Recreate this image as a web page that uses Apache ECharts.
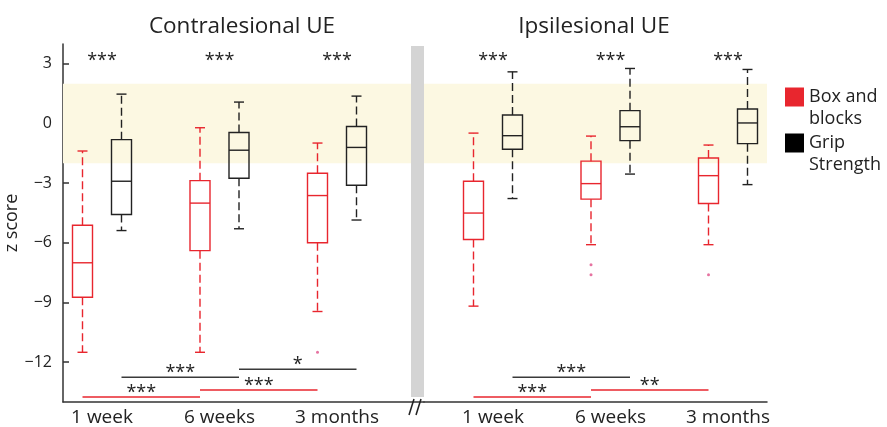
<!DOCTYPE html>
<html><head><meta charset="utf-8">
<script src="https://cdn.jsdelivr.net/npm/echarts@6/dist/echarts.min.js"></script>
<style>html,body{margin:0;padding:0;background:#fff}#c{width:887px;height:427px}</style>
</head><body><div id="c"></div>
<script>
// ---------- data ----------
const categories = ['1 week', '6 weeks', '3 months'];
const yTicks = [-12, -9, -6, -3, 0, 3];
const normalBand = [-2, 2];
// each box: [lower whisker, Q1, median, Q3, upper whisker]
const contraBoxBlocks = [[-11.5, -8.73, -7.0, -5.11, -1.38], [-11.5, -6.39, -4.0, -2.87, -0.21], [-9.45, -5.99, -3.62, -2.5, -0.98]];
const contraGrip      = [[-5.38, -4.57, -2.9, -0.81, 1.48], [-5.29, -2.75, -1.34, -0.45, 1.08], [-4.85, -3.1, -1.2, -0.15, 1.38]];
const ipsiBoxBlocks   = [[-9.18, -5.83, -4.5, -2.9, -0.48], [-6.09, -3.8, -3.02, -1.89, -0.63], [-6.09, -4.02, -2.62, -1.73, -1.08]];
const ipsiGrip        = [[-3.77, -1.29, -0.61, 0.43, 2.6], [-2.54, -0.86, -0.16, 0.65, 2.77], [-3.07, -1.01, 0.03, 0.73, 2.72]];
// outliers: [category index, value]
const contraBoxOutliers = [[2, -11.5]];
const ipsiBoxOutliers   = [[1, -7.1], [1, -7.6], [2, -7.6]];
// between-measure significance above each time point
const contraGroupStars = ['***', '***', '***'];
const ipsiGroupStars   = ['***', '***', '***'];
const starLevel = 3.35;
// comparisons across time: [from category, to category, level, measure (0 Box and blocks, 1 Grip Strength), label]
const contraComparisons = [[0, 1, -12.75, 1, '***'], [1, 2, -12.35, 1, '*'], [0, 1, -13.75, 0, '***'], [1, 2, -13.4, 0, '***']];
const ipsiComparisons   = [[0, 1, -12.75, 1, '***'], [0, 1, -13.75, 0, '***'], [1, 2, -13.4, 0, '**']];
const legendNames = ['Box and blocks', 'Grip Strength'];
const legendLabels = ['Box and\nblocks', 'Grip\nStrength'];

// ---------- styling ----------
const RED = '#e8262e', BLACK = '#222222', AXIS = '#333333', TXT = '#222222';
const FONT = '"Open Sans", "Noto Sans", sans-serif';
const HALF_GAP = 19.5, BOX_W = 20, CAP_W = 10;

function boxRenderer(side, color) {
  return function (params, api) {
    const x = api.value(0);
    const lo = api.coord([x, api.value(1)]);
    const q1 = api.coord([x, api.value(2)]);
    const md = api.coord([x, api.value(3)]);
    const q3 = api.coord([x, api.value(4)]);
    const hi = api.coord([x, api.value(5)]);
    const cx = lo[0] + side * HALF_GAP;
    const solid = { stroke: color, lineWidth: 1.4, fill: null };
    const dash = { stroke: color, lineWidth: 1.4, lineDash: [8, 4] };
    return {
      type: 'group',
      children: [
        { type: 'line', shape: { x1: cx, y1: q3[1], x2: cx, y2: hi[1] }, style: dash },
        { type: 'line', shape: { x1: cx, y1: q1[1], x2: cx, y2: lo[1] }, style: dash },
        { type: 'line', shape: { x1: cx - CAP_W / 2, y1: hi[1], x2: cx + CAP_W / 2, y2: hi[1] }, style: solid },
        { type: 'line', shape: { x1: cx - CAP_W / 2, y1: lo[1], x2: cx + CAP_W / 2, y2: lo[1] }, style: solid },
        { type: 'rect', shape: { x: cx - BOX_W / 2, y: q3[1], width: BOX_W, height: q1[1] - q3[1] }, style: { stroke: color, lineWidth: 1.4, fill: 'rgba(255,255,255,0)' } },
        { type: 'line', shape: { x1: cx - BOX_W / 2, y1: md[1], x2: cx + BOX_W / 2, y2: md[1] }, style: solid }
      ]
    };
  };
}

function starText(x, yCenter, label) {
  return { type: 'text', style: { text: label, x: x, y: yCenter + 4, align: 'center', verticalAlign: 'middle', fill: TXT, font: '18px ' + FONT } };
}

function groupStarRenderer(labels) {
  return function (params, api) {
    const p = api.coord([api.value(0), starLevel]);
    return starText(p[0], p[1], labels[params.dataIndex]);
  };
}

function comparisonRenderer(comps) {
  return function (params, api) {
    const c = comps[params.dataIndex];
    const off = c[3] === 0 ? -HALF_GAP : HALF_GAP;
    const p1 = api.coord([c[0], c[2]]);
    const p2 = api.coord([c[1], c[2]]);
    const color = c[3] === 0 ? RED : '#3a3a3a';
    return {
      type: 'group',
      children: [
        { type: 'line', shape: { x1: p1[0] + off, y1: p1[1], x2: p2[0] + off, y2: p2[1] }, style: { stroke: color, lineWidth: 1.5 } },
        starText((p1[0] + p2[0]) / 2 + off, p1[1] - 8, c[4])
      ]
    };
  };
}

function panelSeries(gi, boxBlocks, grip, outliers, groupStars, comps) {
  const withIdx = arr => arr.map((d, i) => [i].concat(d));
  return [
    {
      name: legendNames[0], type: 'custom', xAxisIndex: gi, yAxisIndex: gi, clip: false,
      itemStyle: { color: RED }, encode: { x: 0, y: [1, 2, 3, 4, 5] },
      renderItem: boxRenderer(-1, RED), data: withIdx(boxBlocks),
      markArea: {
        silent: true, itemStyle: { color: '#fcf8e2' },
        data: [[{ yAxis: normalBand[0] }, { yAxis: normalBand[1] }]]
      },
      z: 3
    },
    {
      name: legendNames[1], type: 'custom', xAxisIndex: gi, yAxisIndex: gi, clip: false,
      itemStyle: { color: '#000' }, encode: { x: 0, y: [1, 2, 3, 4, 5] },
      renderItem: boxRenderer(1, BLACK), data: withIdx(grip), z: 3
    },
    {
      name: 'outliers', type: 'scatter', xAxisIndex: gi, yAxisIndex: gi,
      symbol: 'circle', symbolSize: 3, symbolOffset: [-HALF_GAP, 0],
      itemStyle: { color: '#e0508a' }, data: outliers, silent: true, z: 3
    },
    {
      name: 'stars', type: 'custom', xAxisIndex: gi, yAxisIndex: gi, clip: false, silent: true,
      renderItem: groupStarRenderer(groupStars), data: groupStars.map((s, i) => [i]), encode: { x: 0 }, z: 4
    },
    {
      name: 'comparisons', type: 'custom', xAxisIndex: gi, yAxisIndex: gi, clip: false, silent: true,
      renderItem: comparisonRenderer(comps), data: comps.map(c => [c[0], c[1], c[2], c[3]]), encode: { x: [0, 1], y: 2 }, z: 4
    }
  ];
}

const PX_PER_CAT = 117.5;
// left panel grid: x 63..424, right panel grid: x 424..767
const leftMin = -39 / PX_PER_CAT, leftMax = leftMin + 361 / PX_PER_CAT;
const rightMin = -69 / PX_PER_CAT, rightMax = rightMin + 343 / PX_PER_CAT;

function xAxisFor(gi, min, max) {
  return {
    type: 'value', gridIndex: gi, min: min, max: max,
    axisLine: { show: true, onZero: false, lineStyle: { color: AXIS, width: 1.5 } },
    axisTick: { show: false }, splitLine: { show: false },
    axisLabel: { customValues: [0, 1, 2], formatter: v => categories[Math.round(v)], color: TXT, fontSize: 19, fontFamily: FONT, margin: 6 }
  };
}
function yAxisFor(gi, visible) {
  return {
    type: 'value', gridIndex: gi, min: -14, max: 4, show: visible,
    name: visible ? 'z score' : '', nameLocation: 'middle', nameGap: 36, nameRotate: 90,
    nameTextStyle: { color: TXT, fontSize: 18, fontFamily: FONT },
    axisLine: { show: true, onZero: false, lineStyle: { color: AXIS, width: 1.5 } },
    axisTick: { show: true, inside: true, length: 6, customValues: yTicks, lineStyle: { color: AXIS, width: 1.5 } },
    splitLine: { show: false },
    axisLabel: { customValues: yTicks, formatter: v => String(v).replace('-', '\u2212'), color: TXT, fontSize: 16, fontFamily: FONT, margin: 11 }
  };
}

function legendFor(i, top, color) {
  return {
    orient: 'vertical', left: 785, top: top, padding: 0, itemWidth: 19, itemHeight: 19,
    icon: 'rect', selectedMode: false,
    data: [{ name: legendNames[i], itemStyle: { color: color } }],
    formatter: () => '\n' + legendLabels[i],
    textStyle: { color: TXT, fontSize: 18, lineHeight: 22, fontFamily: FONT }
  };
}

const chart = echarts.init(document.getElementById('c'), null, { renderer: 'canvas' });
chart.setOption({
  animation: false,
  backgroundColor: '#ffffff',
  title: [
    { text: 'Contralesional UE', left: 237, top: 10, textAlign: 'center', textStyle: { color: TXT, fontSize: 22.5, fontWeight: 'normal', fontFamily: FONT } },
    { text: 'Ipsilesional UE', left: 589, top: 10, textAlign: 'center', textStyle: { color: TXT, fontSize: 22.5, fontWeight: 'normal', fontFamily: FONT } }
  ],
  legend: [legendFor(0, 64, RED), legendFor(1, 110, '#000')],
  grid: [
    { left: 63, top: 44, width: 361, height: 360 },
    { left: 424, top: 44, width: 343, height: 360 }
  ],
  xAxis: [xAxisFor(0, leftMin, leftMax), xAxisFor(1, rightMin, rightMax)],
  yAxis: [yAxisFor(0, true), yAxisFor(1, false)],
  series: [].concat(
    panelSeries(0, contraBoxBlocks, contraGrip, contraBoxOutliers, contraGroupStars, contraComparisons),
    panelSeries(1, ipsiBoxBlocks, ipsiGrip, ipsiBoxOutliers, ipsiGroupStars, ipsiComparisons)
  ),
  graphic: [
    { type: 'rect', shape: { x: 411, y: 46, width: 13, height: 351 }, style: { fill: '#d4d4d4' }, z: 10 },
    { type: 'line', shape: { x1: 409, y1: 415, x2: 414, y2: 399 }, style: { stroke: TXT, lineWidth: 1.5 }, z: 10 },
    { type: 'line', shape: { x1: 416, y1: 415, x2: 421, y2: 399 }, style: { stroke: TXT, lineWidth: 1.5 }, z: 10 }
  ]
});
</script></body></html>
